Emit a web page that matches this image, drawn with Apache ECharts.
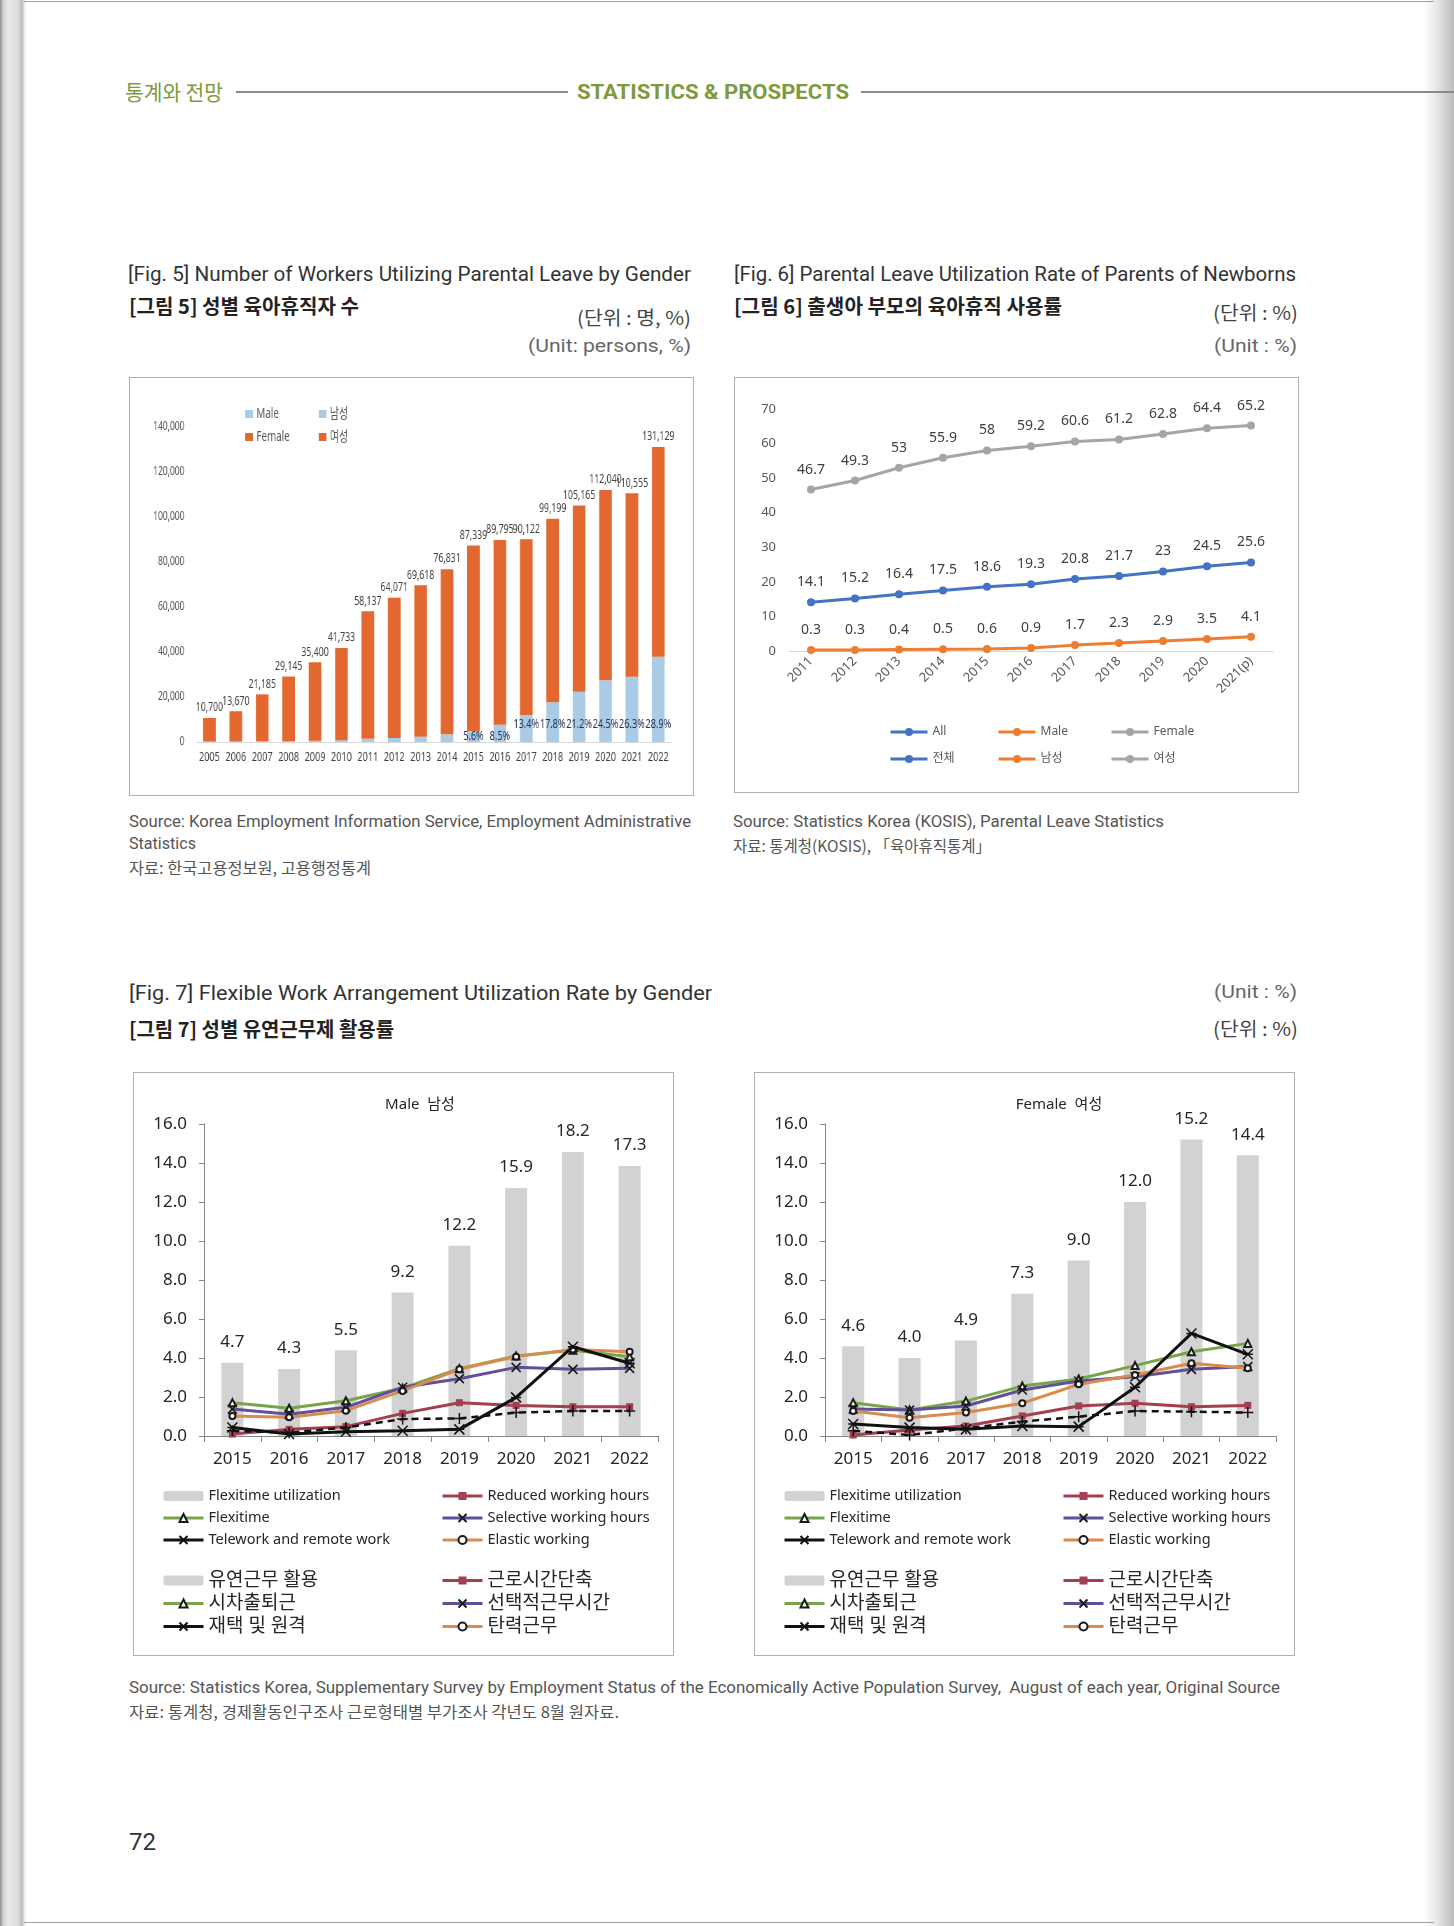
<!DOCTYPE html>
<html><head><meta charset="utf-8">
<script src="https://cdn.jsdelivr.net/npm/echarts@6/dist/echarts.min.js"></script>
<style>
html,body{margin:0;padding:0;background:#fff;}
#page{position:relative;width:1454px;height:1926px;overflow:hidden;background:#fff;font-family:Roboto,'Noto Sans CJK KR',sans-serif;}
.t{position:absolute;white-space:nowrap;line-height:1.2;}
.box{position:absolute;border:1px solid #b0b0b0;box-sizing:border-box;}
.ch{position:absolute;}
.hl{position:absolute;height:2px;background:#8a8a8a;}
.kr{font-family:'Noto Sans CJK KR',sans-serif;}
</style></head>
<body>
<div id="page">
  <div style="position:absolute;left:0;top:0;width:26px;height:1926px;background:linear-gradient(to right,#8c8c8c 0,#cfcfcf 3px,#e9e9e9 8px,#dcdcdc 18px,#bdbdbd 22px,#f4f4f4 25px);"></div>
  <div style="position:absolute;left:1424px;top:0;width:30px;height:1926px;background:linear-gradient(to right,#ffffff 0,#ececec 35%,#cfcfcf 75%,#bcbcbc 100%);"></div>
  <div style="position:absolute;left:24px;top:1px;width:1410px;height:1px;background:#a0a0a0;"></div>
  <div style="position:absolute;left:24px;top:1922px;width:1410px;height:1px;background:#a0a0a0;"></div>

  <div class="t kr" data-w="98" style="left:125px;top:79px;font-size:21px;color:#7d9a3e;">통계와 전망</div>
  <div class="hl" style="left:236px;top:91px;width:332px;"></div>
  <div class="t" data-w="272" style="left:577px;top:80px;font-size:20px;font-weight:700;color:#7d9a3e;">STATISTICS &amp; PROSPECTS</div>
  <div class="hl" style="left:861px;top:91px;width:593px;"></div>

  <div class="t" data-w="563" style="left:128px;top:262px;font-size:20px;color:#333;">[Fig. 5] Number of Workers Utilizing Parental Leave by Gender</div>
  <div class="t kr" data-w="230" style="left:129px;top:294px;font-size:20px;font-weight:700;color:#222;">[그림 5] 성별 육아휴직자 수</div>
  <div class="t kr" data-w="114" style="left:577px;top:306px;font-size:19px;color:#444;">(단위 : 명, %)</div>
  <div class="t" data-w="163" style="left:528px;top:335px;font-size:19px;color:#666;">(Unit: persons, %)</div>

  <div class="t" data-w="562" style="left:734px;top:262px;font-size:20px;color:#333;">[Fig. 6] Parental Leave Utilization Rate of Parents of Newborns</div>
  <div class="t kr" data-w="328" style="left:734px;top:294px;font-size:20px;font-weight:700;color:#222;">[그림 6] 출생아 부모의 육아휴직 사용률</div>
  <div class="t kr" data-w="85" style="left:1213px;top:301px;font-size:19px;color:#444;">(단위 : %)</div>
  <div class="t" data-w="83" style="left:1214px;top:335px;font-size:19px;color:#666;">(Unit : %)</div>

  <div class="box" style="left:129px;top:377px;width:565px;height:419px;"></div>
  <div class="box" style="left:734px;top:377px;width:565px;height:416px;"></div>
  <div id="fig5" class="ch" style="left:129px;top:377px;width:806px;height:418px;transform:scaleX(0.7);transform-origin:left top;"></div>
  <div id="fig6" class="ch" style="left:734px;top:377px;width:564px;height:416px;"></div>

  <div class="t" data-w="562" style="left:129px;top:812px;font-size:16px;color:#555;">Source: Korea Employment Information Service, Employment Administrative</div>
  <div class="t" data-w="67" style="left:129px;top:834px;font-size:16px;color:#555;">Statistics</div>
  <div class="t kr" data-w="242" style="left:129px;top:858px;font-size:16px;color:#555;">자료: 한국고용정보원, 고용행정통계</div>
  <div class="t" data-w="431" style="left:733px;top:812px;font-size:16px;color:#555;">Source: Statistics Korea (KOSIS), Parental Leave Statistics</div>
  <div class="t kr" data-w="258" style="left:733px;top:836px;font-size:16px;color:#555;">자료: 통계청(KOSIS), 「육아휴직통계」</div>

  <div class="t" data-w="583" style="left:129px;top:981px;font-size:20px;color:#333;">[Fig. 7] Flexible Work Arrangement Utilization Rate by Gender</div>
  <div class="t kr" data-w="265" style="left:129px;top:1017px;font-size:20px;font-weight:700;color:#222;">[그림 7] 성별 유연근무제 활용률</div>
  <div class="t" data-w="83" style="left:1214px;top:981px;font-size:19px;color:#666;">(Unit : %)</div>
  <div class="t kr" data-w="85" style="left:1213px;top:1017px;font-size:19px;color:#444;">(단위 : %)</div>

  <div class="box" style="left:133px;top:1072px;width:541px;height:584px;"></div>
  <div class="box" style="left:754px;top:1072px;width:541px;height:584px;"></div>
  <div id="fig7m" class="ch" style="left:133px;top:1072px;width:540px;height:583px;"></div>
  <div id="fig7f" class="ch" style="left:754px;top:1072px;width:540px;height:583px;"></div>

  <div class="t" data-w="1151" style="left:129px;top:1678px;font-size:16px;color:#555;">Source: Statistics Korea, Supplementary Survey by Employment Status of the Economically Active Population Survey,&nbsp; August of each year, Original Source</div>
  <div class="t kr" data-w="490" style="left:129px;top:1702px;font-size:16px;color:#555;">자료: 통계청, 경제활동인구조사 근로형태별 부가조사 각년도 8월 원자료.</div>

  <div class="t" data-w="27" style="left:129px;top:1828px;font-size:24px;color:#333;">72</div>
</div>

<script>
// ---------- Fig. 5 data ----------
const fig5Years = ['2005','2006','2007','2008','2009','2010','2011','2012','2013','2014','2015','2016','2017','2018','2019','2020','2021','2022'];
const fig5Total = [10700,13670,21185,29145,35400,41733,58137,64071,69618,76831,87339,89795,90122,99199,105165,112040,110555,131129];
const fig5Male = [208,230,310,355,502,819,1402,1790,2293,3421,4872,7616,12042,17662,22297,27423,29041,37885];
const fig5Female = [10492,13440,20875,28790,34898,40914,56735,62281,67325,73410,82467,82179,78080,81537,82868,84617,81514,93244];
const fig5MalePct = [null,null,null,null,null,null,null,null,null,null,5.6,8.5,13.4,17.8,21.2,24.5,26.3,28.9];

// ---------- Fig. 6 data ----------
const fig6Years = ['2011','2012','2013','2014','2015','2016','2017','2018','2019','2020','2021(p)'];
const fig6All = [14.1,15.2,16.4,17.5,18.6,19.3,20.8,21.7,23,24.5,25.6];
const fig6Male = [0.3,0.3,0.4,0.5,0.6,0.9,1.7,2.3,2.9,3.5,4.1];
const fig6Female = [46.7,49.3,53,55.9,58,59.2,60.6,61.2,62.8,64.4,65.2];

// ---------- Fig. 7 data ----------
const fig7Years = ['2015','2016','2017','2018','2019','2020','2021','2022'];
const maleFlexUse = [4.7,4.3,5.5,9.2,12.2,15.9,18.2,17.3];
const maleFlexitime = [1.71,1.42,1.81,2.45,3.45,4.1,4.4,4.07];
const maleTelework = [0.44,0.1,0.22,0.27,0.34,1.98,4.58,3.73];
const maleReduced = [0.1,0.34,0.48,1.16,1.71,1.57,1.5,1.5];
const maleSelective = [1.38,1.11,1.47,2.5,2.94,3.52,3.42,3.47];
const maleElastic = [1.03,0.96,1.3,2.31,3.42,4.07,4.44,4.32];
const maleOther = [0.27,0.17,0.44,0.87,0.9,1.2,1.28,1.28];

const femFlexUse = [4.6,4.0,4.9,7.3,9.0,12.0,15.2,14.4];
const femFlexitime = [1.71,1.33,1.79,2.56,2.92,3.61,4.32,4.75];
const femTelework = [0.62,0.43,0.34,0.51,0.48,2.5,5.26,4.19];
const femReduced = [0.05,0.31,0.51,1.03,1.54,1.68,1.5,1.57];
const femSelective = [1.38,1.33,1.54,2.36,2.82,3.04,3.42,3.56];
const femElastic = [1.28,0.94,1.2,1.68,2.65,3.13,3.73,3.47];
const femOther = [0.27,0.05,0.39,0.74,0.99,1.28,1.25,1.2];

// fit HTML text widths
function fitText(){
  document.querySelectorAll('[data-w]').forEach(el=>{
    el.style.transform='none';
    const w=+el.dataset.w, nat=el.getBoundingClientRect().width;
    el.style.transformOrigin='left center';
    el.style.transform='scaleX('+(w/nat)+')';
  });
}
fitText();
if (document.fonts && document.fonts.ready) document.fonts.ready.then(fitText);

const SANS = "'Noto Sans','Noto Sans CJK KR',sans-serif";

// ---------- Fig. 5 (drawn 1/0.7 wide, container squeezed to 0.7 for the narrow Excel look) ----------
const c5 = echarts.init(document.getElementById('fig5'));
const maleCol = '#a9cbe6', femCol = '#e2682f';
const leg5Text = {fontFamily:SANS,fontSize:14,color:'#595959',lineHeight:14};
c5.setOption({
  animation:false,
  textStyle:{fontFamily:SANS},
  grid:{left:96,right:31,top:50,bottom:53},
  legend:[
    {data:['Male','Female'],orient:'vertical',left:161,top:25,itemWidth:11,itemHeight:8,itemGap:9,icon:'rect',textStyle:leg5Text},
    {data:['남성','여성'],orient:'vertical',left:266,top:25,itemWidth:11,itemHeight:8,itemGap:9,icon:'rect',textStyle:leg5Text}
  ],
  xAxis:{type:'category',data:fig5Years,axisLine:{lineStyle:{color:'#d9d9d9'}},axisTick:{show:false},
    axisLabel:{interval:0,fontSize:13,color:'#404040',margin:9}},
  yAxis:{type:'value',min:0,max:140000,interval:20000,axisLine:{show:false},axisTick:{show:false},splitLine:{show:false},
    axisLabel:{fontSize:12,color:'#595959',margin:17,formatter:v=>v.toLocaleString('en-US')}},
  series:[
    {name:'Male',type:'bar',stack:'t',barWidth:'48%',itemStyle:{color:maleCol},
     data:fig5Male.map((v,i)=>({value:v,label:{distance:(i===10||i===11)?-1:11}})),
     label:{show:true,position:'insideBottom',fontSize:13,color:'#1f3050',
       formatter:p=>fig5MalePct[p.dataIndex]==null?'':fig5MalePct[p.dataIndex].toFixed(1)+'%'}},
    {name:'Female',type:'bar',stack:'t',itemStyle:{color:femCol},data:fig5Female,
     label:{show:true,position:'top',distance:4,fontSize:12.5,color:'#404040',
       formatter:p=>fig5Total[p.dataIndex].toLocaleString('en-US')}},
    {name:'남성',type:'bar',stack:'t',itemStyle:{color:maleCol},data:[]},
    {name:'여성',type:'bar',stack:'t',itemStyle:{color:femCol},data:[]}
  ]
});

// ---------- Fig. 6 ----------
const c6 = echarts.init(document.getElementById('fig6'));
const f6Col = {all:'#4472c4',male:'#ed7d31',female:'#a5a5a5'};
function f6Line(name,data,color,labels){
  return {name,type:'line',data,symbol:'circle',symbolSize:8,lineStyle:{width:3,color},itemStyle:{color},
    label:{show:labels,position:'top',distance:9,fontSize:14,color:'#404040'}};
}
const leg6 = {orient:'vertical',top:343,itemWidth:37,itemHeight:10,itemGap:13,lineStyle:{width:3},
  textStyle:{fontSize:12,color:'#595959',lineHeight:14}};
c6.setOption({
  animation:false,
  textStyle:{fontFamily:SANS},
  grid:{left:55,right:25,top:32,bottom:142},
  legend:[
    Object.assign({data:['All','전체'],left:150},leg6),
    Object.assign({data:['Male','남성'],left:258},leg6),
    Object.assign({data:['Female','여성'],left:371},leg6)
  ],
  xAxis:{type:'category',data:fig6Years,axisLine:{lineStyle:{color:'#d9d9d9'}},axisTick:{show:false},
    axisLabel:{interval:0,rotate:45,fontSize:13,color:'#595959',margin:8}},
  yAxis:{type:'value',min:0,max:70,interval:10,axisLine:{show:false},axisTick:{show:false},splitLine:{show:false},
    axisLabel:{fontSize:13,color:'#595959',margin:13}},
  series:[
    f6Line('All',fig6All,f6Col.all,true),
    f6Line('Male',fig6Male,f6Col.male,true),
    f6Line('Female',fig6Female,f6Col.female,true),
    f6Line('전체',[],f6Col.all,false),
    f6Line('남성',[],f6Col.male,false),
    f6Line('여성',[],f6Col.female,false)
  ]
});

// ---------- Fig. 7 ----------
const SYM_X = 'path://M0,0L10,10M10,0L0,10';
const SYM_AST = 'path://M0,0L10,10M10,0L0,10M0,5L10,5';
const SYM_PLUS = 'path://M5,0L5,10M0,5L10,5';
const F7 = {bar:'#d2d2d2', flex:'#78a44b', tele:'#111111', red:'#a33f50', sel:'#5f5098', ela:'#d98a4f'};
function f7Line(name,data,color,symbol,size,itemStyle,extra){
  return Object.assign({name,type:'line',data,symbol,symbolSize:size,lineStyle:{width:3,color},itemStyle,z:3},extra||{});
}
function fig7Option(title,titleX,gridLeft,gridRight,barAxisMax,d){
  const stFlex={color:'#1a1a1a',borderWidth:1};
  const stRed={color:F7.red};
  const stSel={color:'#1a1a1a',borderColor:'#1a1a1a',borderWidth:1.6};
  const stEla={color:'#1a1a1a',borderWidth:1};
  const stTele={color:'#111',borderColor:'#111',borderWidth:1.5};
  const barBase={type:'bar',stack:'fb',yAxisIndex:1,barWidth:22,itemStyle:{color:F7.bar},z:1};
  const legTxtE={fontFamily:SANS,fontSize:14.5,color:'#262626',lineHeight:16};
  const legTxtK={fontFamily:SANS,fontSize:19,color:'#262626',lineHeight:18};
  const legE={orient:'vertical',itemWidth:40,itemHeight:10,itemGap:6,lineStyle:{width:3}};
  const legK={orient:'vertical',itemWidth:40,itemHeight:10,itemGap:4,lineStyle:{width:3}};
  return {
    animation:false,
    textStyle:{fontFamily:SANS},
    title:{text:title,left:titleX,top:20,textAlign:'center',textStyle:{fontSize:15,fontWeight:'normal',color:'#262626'}},
    grid:{left:gridLeft,right:gridRight,top:52,bottom:219},
    legend:[
      Object.assign({data:['Flexitime utilization','Flexitime','Telework and remote work'],left:24,top:411,textStyle:legTxtE},legE),
      Object.assign({data:['Reduced working hours','Selective working hours','Elastic working'],left:303,top:411,textStyle:legTxtE},legE),
      Object.assign({data:['유연근무 활용','시차출퇴근','재택 및 원격'],left:24,top:494,textStyle:legTxtK},legK),
      Object.assign({data:['근로시간단축','선택적근무시간','탄력근무'],left:303,top:494,textStyle:legTxtK},legK)
    ],
    xAxis:{type:'category',data:fig7Years,axisLine:{lineStyle:{color:'#868686'}},axisTick:{show:true,length:6,lineStyle:{color:'#868686'}},
      axisLabel:{interval:0,fontSize:17,color:'#262626',margin:15}},
    yAxis:[
      {type:'value',min:0,max:16,interval:2,axisLine:{show:true,lineStyle:{color:'#868686'}},axisTick:{show:true,length:5,lineStyle:{color:'#868686'}},
        splitLine:{show:false},axisLabel:{fontSize:17,color:'#262626',margin:17,formatter:v=>v.toFixed(1)}},
      {type:'value',min:0,max:barAxisMax,show:false,splitLine:{show:false}}
    ],
    series:[
      Object.assign({name:'Flexitime utilization',data:d.bars,
        label:{show:true,position:'top',distance:12,fontSize:17,color:'#262626',formatter:p=>p.value.toFixed(1)}},barBase),
      Object.assign({name:'유연근무 활용',data:[]},barBase),
      f7Line('Flexitime',d.flex,F7.flex,'emptyTriangle',7,stFlex),
      f7Line('Reduced working hours',d.red,F7.red,'rect',7,stRed),
      f7Line('Selective working hours',d.sel,F7.sel,SYM_X,9,stSel),
      f7Line('Elastic working',d.ela,F7.ela,'emptyCircle',6,stEla),
      f7Line('Telework and remote work',d.tele,F7.tele,SYM_AST,10,stTele,{z:4}),
      f7Line('Other arrangement',d.other,'#111',SYM_PLUS,11,stTele,{lineStyle:{width:2.5,color:'#111',type:[7,5]},z:4}),
      f7Line('시차출퇴근',[],F7.flex,'emptyTriangle',7,stFlex),
      f7Line('재택 및 원격',[],F7.tele,SYM_AST,10,stTele),
      f7Line('근로시간단축',[],F7.red,'rect',7,stRed),
      f7Line('선택적근무시간',[],F7.sel,SYM_X,9,stSel),
      f7Line('탄력근무',[],F7.ela,'emptyCircle',6,stEla)
    ]
  };
}
const c7m = echarts.init(document.getElementById('fig7m'));
c7m.setOption(fig7Option('Male  남성',282,71,15,20,
  {bars:maleFlexUse,flex:maleFlexitime,tele:maleTelework,red:maleReduced,sel:maleSelective,ela:maleElastic,other:maleOther}));
const c7f = echarts.init(document.getElementById('fig7f'));
c7f.setOption(fig7Option('Female  여성',300,71,18,16,
  {bars:femFlexUse,flex:femFlexitime,tele:femTelework,red:femReduced,sel:femSelective,ela:femElastic,other:femOther}));
</script>
</body></html>
